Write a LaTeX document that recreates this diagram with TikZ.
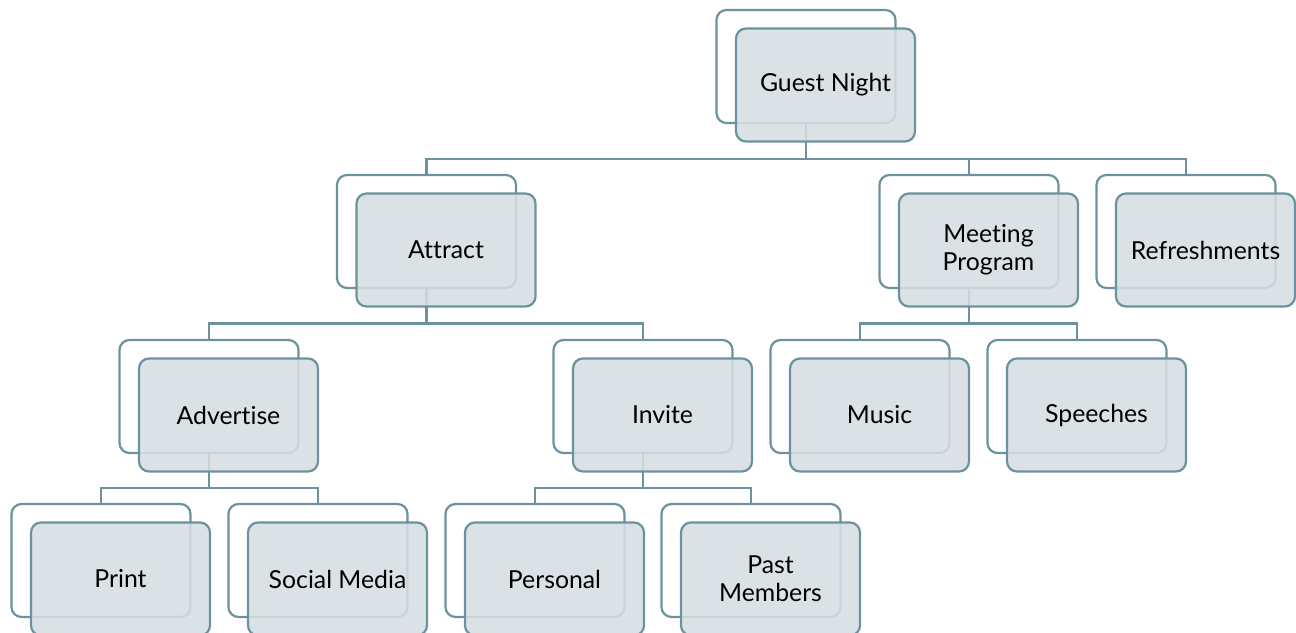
\documentclass[tikz,border=0pt]{standalone}
\usepackage{fontspec}
\setmainfont{Lato}[Ligatures={NoCommon}]
\definecolor{linec}{HTML}{6D929F}
\definecolor{boxfill}{HTML}{D6DEE2}
\tikzset{
  backbox/.style={draw=linec, fill=white, line width=2.2pt, rounded corners=10pt,
    minimum width=179pt, minimum height=113pt, inner sep=0pt, outer sep=0pt},
  frontbox/.style={draw=linec, fill=boxfill, fill opacity=0.88, draw opacity=1, text opacity=1,
    line width=2.2pt, rounded corners=10pt, minimum width=179pt, minimum height=113pt,
    inner sep=0pt, outer sep=0pt, align=center, font=\fontsize{24.8}{28}\selectfont},
  conn/.style={draw=linec, line width=2.2pt}
}
\newcommand{\backnode}[3]{\node[backbox] (#1-b) at (#2,#3+56.5) {};}
\newcommand{\frontnode}[4]{\node[frontbox] (#1) at (#2+19.5,#3+75) {#4};}
\begin{document}
\begin{tikzpicture}[x=1pt,y=-1pt]
\useasboundingbox (0,0) rectangle (1296,632);
\clip (0,0) rectangle (1296,632);
% back boxes
\backnode{gn}{806}{10}
\backnode{att}{426.5}{175}
\backnode{mp}{969}{175}
\backnode{ref}{1186}{175}
\backnode{adv}{209}{340}
\backnode{inv}{643}{340}
\backnode{mus}{860}{340}
\backnode{spe}{1077}{340}
\backnode{pri}{101}{504}
\backnode{soc}{318}{504}
\backnode{per}{535}{504}
\backnode{pas}{751}{504}
% bus levels
\coordinate (bus0) at (0,159);
\coordinate (bus1) at (0,323.5);
\coordinate (bus2) at (0,488);
% connectors
\draw[conn] (gn-b.south) |- (att-b.north |- bus0) -- (att-b.north);
\draw[conn] (gn-b.south) |- (mp-b.north |- bus0) -- (mp-b.north);
\draw[conn] (gn-b.south) |- (ref-b.north |- bus0) -- (ref-b.north);
\draw[conn] (att-b.south) |- (adv-b.north |- bus1) -- (adv-b.north);
\draw[conn] (att-b.south) |- (inv-b.north |- bus1) -- (inv-b.north);
\draw[conn] (mp-b.south) |- (mus-b.north |- bus1) -- (mus-b.north);
\draw[conn] (mp-b.south) |- (spe-b.north |- bus1) -- (spe-b.north);
\draw[conn] (adv-b.south) |- (pri-b.north |- bus2) -- (pri-b.north);
\draw[conn] (adv-b.south) |- (soc-b.north |- bus2) -- (soc-b.north);
\draw[conn] (inv-b.south) |- (per-b.north |- bus2) -- (per-b.north);
\draw[conn] (inv-b.south) |- (pas-b.north |- bus2) -- (pas-b.north);
% front boxes
\frontnode{gn}{806}{10}{Guest Night}
\frontnode{att}{426.5}{175}{Attract}
\frontnode{mp}{969}{175}{Meeting\\Program}
\frontnode{ref}{1186}{175}{Refreshments}
\frontnode{adv}{209}{340}{Advertise}
\frontnode{inv}{643}{340}{Invite}
\frontnode{mus}{860}{340}{Music}
\frontnode{spe}{1077}{340}{Speeches}
\frontnode{pri}{101}{504}{Print}
\frontnode{soc}{318}{504}{Social Media}
\frontnode{per}{535}{504}{Personal}
\frontnode{pas}{751}{504}{Past\\Members}
\end{tikzpicture}
\end{document}
